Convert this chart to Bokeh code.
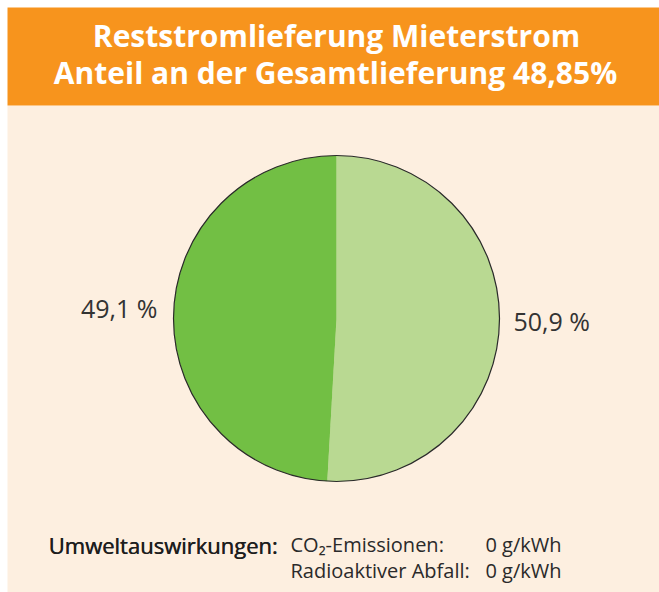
from math import pi
from bokeh.plotting import figure
from bokeh.models import Range1d, ColumnDataSource
from bokeh.core.properties import value
from bokeh.embed import file_html
from bokeh.resources import INLINE

# ---- data ----
title_lines = ["Reststromlieferung Mieterstrom", "Anteil an der Gesamtlieferung 48,85%"]
categories = ["Anteil B", "Anteil A"]          # clockwise from top
shares = [50.9, 49.1]
share_labels = ["50,9 %", "49,1 %"]
slice_colors = ["#B9D992", "#72BF44"]
footer_head = "Umweltauswirkungen:"
footer_items = ["CO₂-Emissionen:", "Radioaktiver Abfall:"]
footer_values = ["0 g/kWh", "0 g/kWh"]

W, H = 659, 592
FONT = value("Open Sans")

p = figure(width=W, height=H, x_range=Range1d(0, W), y_range=Range1d(0, H),
           output_backend="svg", toolbar_location=None, min_border=0)
p.axis.visible = False
p.grid.visible = False
p.outline_line_color = None
p.background_fill_color = "white"
p.border_fill_color = "white"

def Y(y):
    return H - y

# panel background and header band
p.quad(left=7, right=W, top=Y(105), bottom=0, fill_color="#FDEFE0", line_color=None)
p.quad(left=7, right=W, top=Y(7), bottom=Y(105), fill_color="#F7941D", line_color=None)
p.text(x=[336, 335], y=[Y(35), Y(72)], text=title_lines,
       text_font=FONT, text_font_style="bold", text_font_size="30px",
       text_color="white", text_align="center", text_baseline="alphabetic")

# pie
cx, cy, r = 336, Y(318), 163
total = sum(shares)
starts, ends = [], []
a = pi / 2
for s in shares:
    starts.append(a)
    a -= s / total * 2 * pi
    ends.append(a)
src = ColumnDataSource(dict(start=starts, end=ends, color=slice_colors, cat=categories))
p.wedge(x=cx, y=cy, radius=r, start_angle="start", end_angle="end", direction="clock",
        fill_color="color", line_color=None, source=src)
p.circle(x=cx, y=cy, radius=r, fill_color=None, line_color="#2a2a2a", line_width=1.2)

# labels
p.text(x=[513], y=[Y(320)], text=[share_labels[0]], text_font=FONT, text_font_size="25px",
       text_color="#333333", text_align="left", text_baseline="alphabetic")
p.text(x=[157], y=[Y(307)], text=[share_labels[1]], text_font=FONT, text_font_size="25px",
       text_color="#333333", text_align="right", text_baseline="alphabetic")

# footer
p.text(x=[48, 48.5], y=[Y(544), Y(544)], text=[footer_head, footer_head], text_font=FONT,
       text_font_size="22px", text_color="#1e1e1e", text_align="left", text_baseline="alphabetic")
p.text(x=[290, 290], y=[Y(544), Y(570)], text=footer_items, text_font=FONT,
       text_font_size="20px", text_color="#2a2a2a", text_align="left", text_baseline="alphabetic")
p.text(x=[561, 561], y=[Y(544), Y(570)], text=footer_values, text_font=FONT,
       text_font_size="20px", text_color="#2a2a2a", text_align="right", text_baseline="alphabetic")

open("out.html", "w").write(file_html(p, INLINE))
